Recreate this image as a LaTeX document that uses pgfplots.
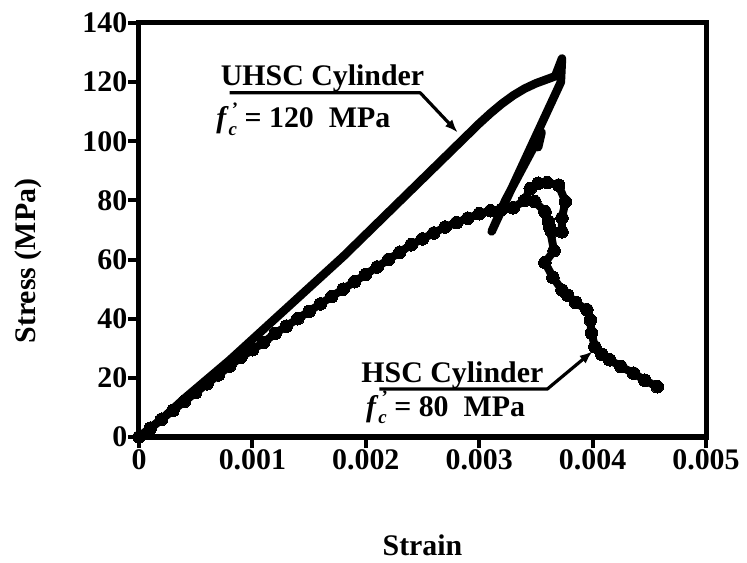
\documentclass[border=0pt]{standalone}
\usepackage{fontspec}
\setmainfont{Liberation Serif}
\usepackage{pgfplots}
\pgfplotsset{compat=1.18}
\usetikzlibrary{arrows.meta}
\newcommand\bigbf{\bfseries\fontsize{30}{34}\selectfont}
\newcommand\fc{\textit{f}\rlap{\raisebox{0.42em}{\fontsize{19}{19}\selectfont\bfseries\,'}}\raisebox{-0.25em}{\fontsize{19}{19}\selectfont\bfseries\itshape c}}
\begin{document}
\begin{tikzpicture}
\begin{axis}[
  scale only axis, width=567bp, height=414bp,
  xmin=0, xmax=0.005, ymin=0, ymax=140,
  xtick={0,0.001,0.002,0.003,0.004,0.005},
  xticklabels={0,0.001,0.002,0.003,0.004,0.005},
  scaled x ticks=false,
  ytick={0,20,40,60,80,100,120,140},
  tick pos=left, tick align=outside,
  major tick length=11bp,
  every tick/.append style={black, line width=4bp},
  axis line style={line width=5bp},
  /pgf/number format/assume math mode=true,
  ticklabel style={font=\bigbf},
  xticklabel style={inner sep=1.5bp},
  yticklabel style={inner sep=0.5bp},
  clip=false,
]
% UHSC cylinder
\addplot[black, line width=8.5bp, line join=round, line cap=round] coordinates {
(0,0) (0.0002,6) (0.0004,13) (0.0006,19.5) (0.0008,26) (0.001,33) (0.0012,40)
(0.0014,47) (0.0016,54) (0.0018,61) (0.002,68.5) (0.0022,76) (0.0024,83.5)
(0.0026,91) (0.0028,98.5) (0.003,106) (0.0031,109.5) (0.0032,112.7) (0.0033,115.5)
(0.0034,117.8) (0.0035,119.6) (0.0036,121) (0.00367,122) (0.00373,128)
(0.00372,120) (0.00311,69.5) (0.00323,80) (0.00355,103) (0.00352,98)
};
% HSC cylinder
\addplot[black, line width=8bp, line join=round, line cap=round, mark=*, mark size=6.3bp, mark options={solid, line width=0pt}] coordinates {
(0,0) (0.0001,3) (0.0002,6) (0.0003,9) (0.0004,12) (0.0005,15) (0.0006,18)
(0.0007,21) (0.0008,24) (0.0009,27) (0.0010,29.5) (0.0011,32) (0.0012,35)
(0.0013,37.5) (0.0014,40) (0.0015,42.5) (0.0016,45) (0.0017,47.5) (0.0018,50)
(0.0019,52.5) (0.0020,55) (0.0021,57.5) (0.0022,60) (0.0023,62.5) (0.0024,65)
(0.0025,67) (0.0026,69) (0.0027,71) (0.0028,72.5) (0.0029,74) (0.0030,75.5)
(0.0031,76.5) (0.0032,77) (0.0033,77.5) (0.0034,80) (0.00345,84) (0.00352,85.8)
(0.0036,86) (0.0037,85.2) (0.00376,79.6) (0.00373,74.1) (0.00373,69.4)
(0.00364,69.4) (0.00361,72.9) (0.00358,76.2) (0.00349,79.6) (0.00358,76.2)
(0.00362,71) (0.00366,63) (0.00358,59) (0.00365,54) (0.00373,49.7) (0.00378,48)
(0.00385,45.5) (0.00395,43) (0.00398,39.6) (0.00399,35.2) (0.00402,30.5)
(0.00408,28) (0.00415,26.1) (0.00425,23.8) (0.00436,21.6) (0.00446,19.2)
(0.00457,17)
};
% annotations
\node[anchor=base west, font=\bigbf, inner sep=0] at (axis cs:0.00072,119) {UHSC Cylinder};
\node[anchor=base west, font=\bigbf, inner sep=0] at (axis cs:0.00068,104.5) {\fc\ = 120\ \ MPa};
\draw[line width=3.2bp, line join=round, -{Latex[length=13bp,width=10bp]}]
  (axis cs:0.0008,116.4) -- (axis cs:0.00248,116.4) -- (axis cs:0.00281,103);
\node[anchor=base west, font=\bigbf, inner sep=0] at (axis cs:0.00196,18.3) {HSC Cylinder};
\node[anchor=base west, font=\bigbf, inner sep=0] at (axis cs:0.00200,7.1) {\fc\ = 80\ \ MPa};
\draw[line width=3.2bp, line join=round, -{Latex[length=13bp,width=10bp]}]
  (axis cs:0.00212,16.2) -- (axis cs:0.00360,16.2) -- (axis cs:0.00400,29);
\end{axis}
\node[font=\bigbf, rotate=90] at ([xshift=-111bp,yshift=-31bp]current axis.west) {Stress (MPa)};
\node[font=\bigbf] at ([yshift=-108bp]current axis.south) {Strain};
\path (current axis.south west) ++(-139bp,-126bp) coordinate (bbA);
\path (current axis.north east) ++(41bp,23bp) coordinate (bbB);
\path (bbA) rectangle (bbB);
\end{tikzpicture}
\end{document}
